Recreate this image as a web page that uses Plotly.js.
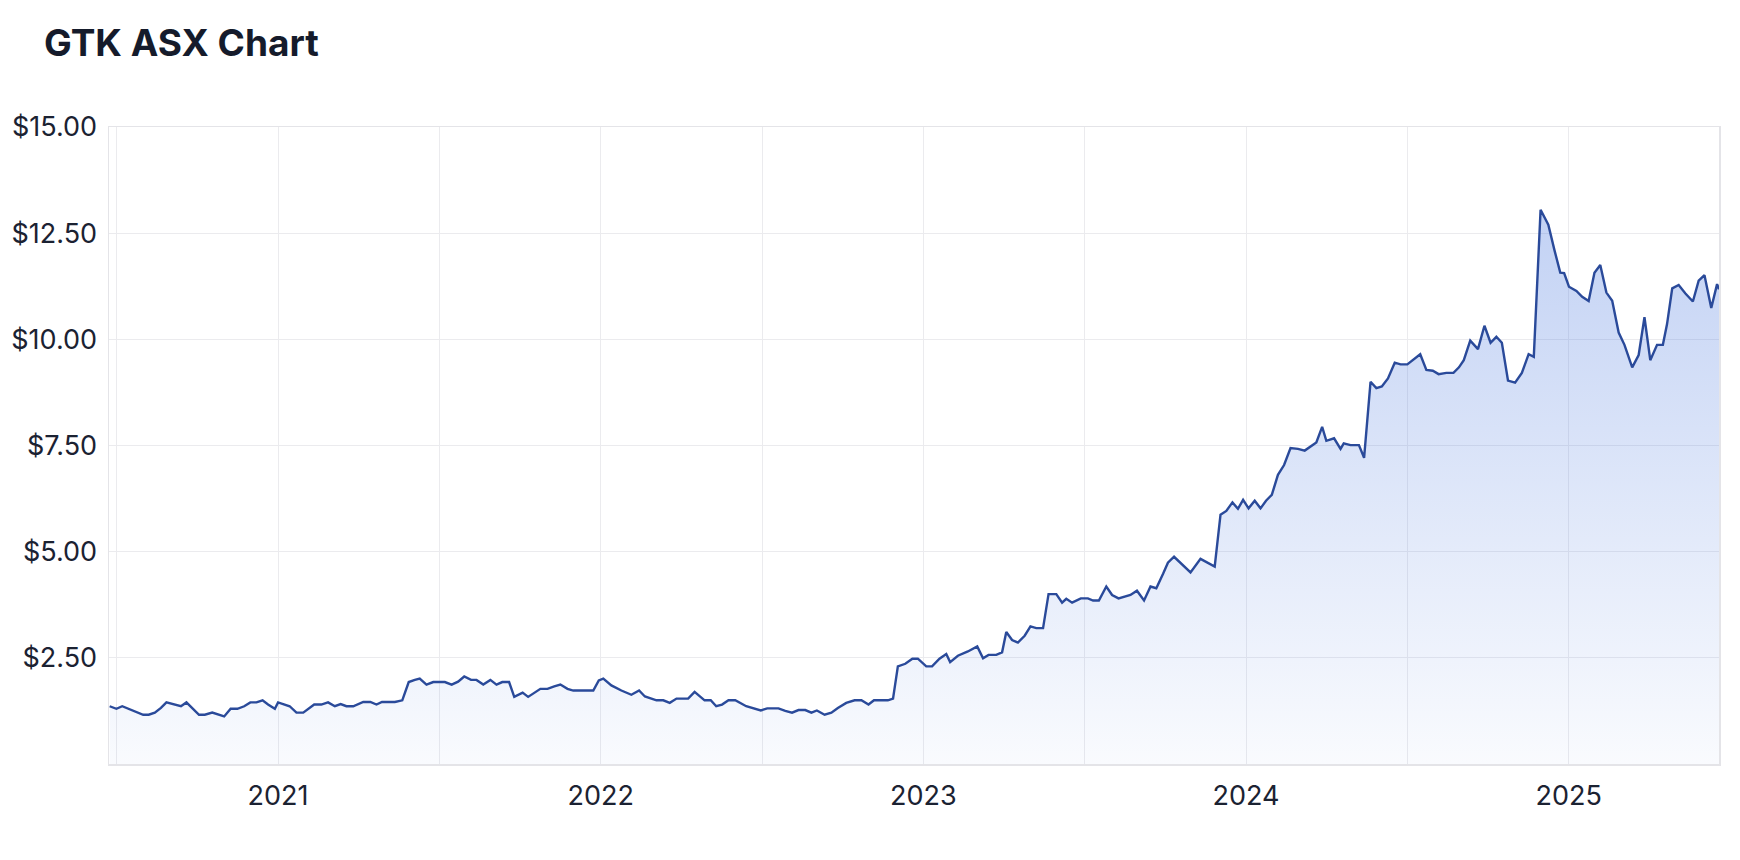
<!DOCTYPE html>
<html>
<head>
<meta charset="utf-8">
<script src="https://cdn.plot.ly/plotly-3.0.1.min.js"></script>
<style>
  html, body { margin: 0; padding: 0; background: #ffffff; }
  #chart { width: 1740px; height: 860px; }
</style>
</head>
<body>
<div id="chart"></div>
<script>
// Position on the time axis (decimal year) of each plotted price point
const yearPos = [
  2020.478, 2020.499, 2020.517, 2020.551, 2020.582, 2020.599, 2020.618, 2020.637, 2020.654, 2020.699,
  2020.716, 2020.755, 2020.773, 2020.796, 2020.833, 2020.853, 2020.874, 2020.895, 2020.914, 2020.933,
  2020.952, 2020.969, 2020.990, 2021.000, 2021.016, 2021.036, 2021.057, 2021.078, 2021.112, 2021.134,
  2021.155, 2021.176, 2021.194, 2021.212, 2021.233, 2021.264, 2021.286, 2021.305, 2021.322, 2021.362,
  2021.385, 2021.405, 2021.424, 2021.439, 2021.460, 2021.481, 2021.517, 2021.538, 2021.558, 2021.577,
  2021.598, 2021.615, 2021.636, 2021.658, 2021.677, 2021.695, 2021.716, 2021.732, 2021.758, 2021.775,
  2021.813, 2021.835, 2021.856, 2021.875, 2021.897, 2021.915, 2021.977, 2021.994, 2022.008, 2022.033,
  2022.064, 2022.095, 2022.119, 2022.137, 2022.173, 2022.194, 2022.214, 2022.235, 2022.271, 2022.291,
  2022.322, 2022.341, 2022.358, 2022.376, 2022.396, 2022.417, 2022.451, 2022.472, 2022.496, 2022.516,
  2022.551, 2022.572, 2022.593, 2022.613, 2022.634, 2022.653, 2022.670, 2022.694, 2022.715, 2022.735,
  2022.761, 2022.787, 2022.808, 2022.830, 2022.847, 2022.890, 2022.906, 2022.921, 2022.944, 2022.966,
  2022.983, 2023.009, 2023.027, 2023.050, 2023.071, 2023.083, 2023.107, 2023.138, 2023.167, 2023.185,
  2023.202, 2023.226, 2023.244, 2023.257, 2023.275, 2023.293, 2023.314, 2023.332, 2023.350, 2023.371,
  2023.388, 2023.412, 2023.430, 2023.443, 2023.461, 2023.488, 2023.510, 2023.526, 2023.544, 2023.567,
  2023.585, 2023.605, 2023.624, 2023.642, 2023.662, 2023.684, 2023.704, 2023.722, 2023.743, 2023.758,
  2023.777, 2023.802, 2023.828, 2023.859, 2023.882, 2023.903, 2023.921, 2023.939, 2023.958, 2023.975,
  2023.991, 2024.008, 2024.027, 2024.045, 2024.062, 2024.080, 2024.099, 2024.118, 2024.138, 2024.161,
  2024.182, 2024.200, 2024.218, 2024.236, 2024.249, 2024.273, 2024.293, 2024.303, 2024.324, 2024.350,
  2024.366, 2024.386, 2024.404, 2024.421, 2024.440, 2024.461, 2024.479, 2024.500, 2024.520, 2024.540,
  2024.559, 2024.579, 2024.597, 2024.621, 2024.643, 2024.660, 2024.675, 2024.695, 2024.719, 2024.739,
  2024.758, 2024.776, 2024.793, 2024.812, 2024.834, 2024.855, 2024.876, 2024.892, 2024.913, 2024.937,
  2024.956, 2024.974, 2024.986, 2025.001, 2025.024, 2025.042, 2025.062, 2025.080, 2025.098, 2025.117,
  2025.135, 2025.155, 2025.173, 2025.197, 2025.217, 2025.235, 2025.253, 2025.274, 2025.292, 2025.305,
  2025.321, 2025.341, 2025.362, 2025.385, 2025.403, 2025.421, 2025.442, 2025.460, 2025.466
];

// GTK share price (AUD) at each of those positions
const price = [
  1.36, 1.30, 1.36, 1.26, 1.16, 1.16, 1.21, 1.32, 1.45, 1.36,
  1.45, 1.16, 1.16, 1.21, 1.12, 1.30, 1.30, 1.36, 1.45, 1.45,
  1.50, 1.40, 1.30, 1.45, 1.41, 1.36, 1.21, 1.21, 1.40, 1.40,
  1.45, 1.36, 1.41, 1.36, 1.36, 1.46, 1.46, 1.40, 1.46, 1.46,
  1.50, 1.93, 1.98, 2.01, 1.87, 1.93, 1.93, 1.87, 1.94, 2.06,
  1.98, 1.98, 1.87, 1.98, 1.87, 1.93, 1.93, 1.58, 1.68, 1.58,
  1.77, 1.77, 1.83, 1.87, 1.77, 1.73, 1.73, 1.97, 2.01, 1.85,
  1.73, 1.63, 1.73, 1.59, 1.50, 1.50, 1.44, 1.54, 1.54, 1.70,
  1.50, 1.50, 1.36, 1.40, 1.50, 1.50, 1.36, 1.32, 1.26, 1.31,
  1.31, 1.25, 1.21, 1.27, 1.27, 1.21, 1.26, 1.16, 1.21, 1.32,
  1.44, 1.50, 1.50, 1.40, 1.50, 1.50, 1.54, 2.30, 2.36, 2.48,
  2.48, 2.30, 2.30, 2.48, 2.59, 2.40, 2.55, 2.65, 2.77, 2.49,
  2.57, 2.57, 2.63, 3.11, 2.92, 2.86, 3.02, 3.24, 3.20, 3.20,
  4.00, 4.00, 3.80, 3.89, 3.80, 3.90, 3.90, 3.85, 3.85, 4.18,
  3.98, 3.90, 3.94, 3.98, 4.08, 3.85, 4.18, 4.14, 4.48, 4.74,
  4.88, 4.69, 4.51, 4.83, 4.73, 4.65, 5.87, 5.96, 6.16, 6.01,
  6.22, 6.02, 6.20, 6.02, 6.20, 6.34, 6.81, 7.04, 7.44, 7.42,
  7.38, 7.47, 7.57, 7.94, 7.61, 7.67, 7.42, 7.55, 7.51, 7.51,
  7.21, 9.00, 8.85, 8.89, 9.08, 9.45, 9.41, 9.41, 9.53, 9.65,
  9.28, 9.26, 9.18, 9.21, 9.21, 9.34, 9.51, 9.97, 9.77, 10.32,
  9.92, 10.06, 9.92, 9.03, 8.98, 9.21, 9.65, 9.59, 13.05, 12.70,
  12.10, 11.57, 11.56, 11.24, 11.14, 11.00, 10.90, 11.57, 11.75, 11.10,
  10.91, 10.16, 9.87, 9.34, 9.63, 10.52, 9.51, 9.87, 9.87, 10.36,
  11.20, 11.28, 11.08, 10.89, 11.38, 11.51, 10.74, 11.30, 11.18
];

// Axis ticks
const xTickVals = [2020.5, 2021, 2021.5, 2022, 2022.5, 2023, 2023.5, 2024, 2024.5, 2025];
const xTickText = ["", "2021", "", "2022", "", "2023", "", "2024", "", "2025"];
const yTickVals = [2.5, 5, 7.5, 10, 12.5, 15];
const yTickText = ["$2.50", "$5.00", "$7.50", "$10.00", "$12.50", "$15.00"];

const chartTitle = "GTK ASX Chart";

const trace = {
  type: "scatter",
  mode: "lines",
  x: yearPos,
  y: price,
  line: { color: "#2a4a9a", width: 2.4 },
  fill: "tozeroy",
  fillgradient: {
    type: "vertical",
    start: 0,
    stop: 13,
    colorscale: [
      [0, "rgba(60,110,220,0.03)"],
      [1, "rgba(60,110,220,0.31)"]
    ]
  },
  hoverinfo: "skip"
};

const tickFont = { family: "Inter, 'Noto Sans', sans-serif", size: 27, color: "#1b2232" };
const gridCol = "#ebebee";

const layout = {
  width: 1740,
  height: 860,
  margin: { l: 109, r: 21, t: 127, b: 96 },
  paper_bgcolor: "#ffffff",
  plot_bgcolor: "#ffffff",
  showlegend: false,
  title: {
    text: "<b>" + chartTitle + "</b>",
    xref: "container",
    yref: "container",
    x: 44 / 1740,
    xanchor: "left",
    y: 1 - 43 / 860,
    yanchor: "middle",
    font: { family: "Inter, 'Noto Sans', sans-serif", size: 37, color: "#151b2b" }
  },
  xaxis: {
    type: "linear",
    range: [2020.476, 2025.466],
    tickmode: "array",
    tickvals: xTickVals,
    ticktext: xTickText,
    showgrid: true,
    gridcolor: gridCol,
    gridwidth: 1,
    zeroline: false,
    showline: true,
    linecolor: "#e4e4e8",
    linewidth: 1.5,
    mirror: true,
    ticks: "",
    ticklabelstandoff: 7,
    tickfont: tickFont,
    fixedrange: true
  },
  yaxis: {
    range: [0, 15],
    tickmode: "array",
    tickvals: yTickVals,
    ticktext: yTickText,
    showgrid: true,
    gridcolor: gridCol,
    gridwidth: 1,
    zeroline: false,
    showline: true,
    linecolor: "#e4e4e8",
    linewidth: 1.5,
    mirror: true,
    ticks: "",
    ticklabelstandoff: 5,
    tickfont: tickFont,
    fixedrange: true
  }
};

Plotly.newPlot("chart", [trace], layout, { displayModeBar: false, staticPlot: true });
</script>
</body>
</html>
